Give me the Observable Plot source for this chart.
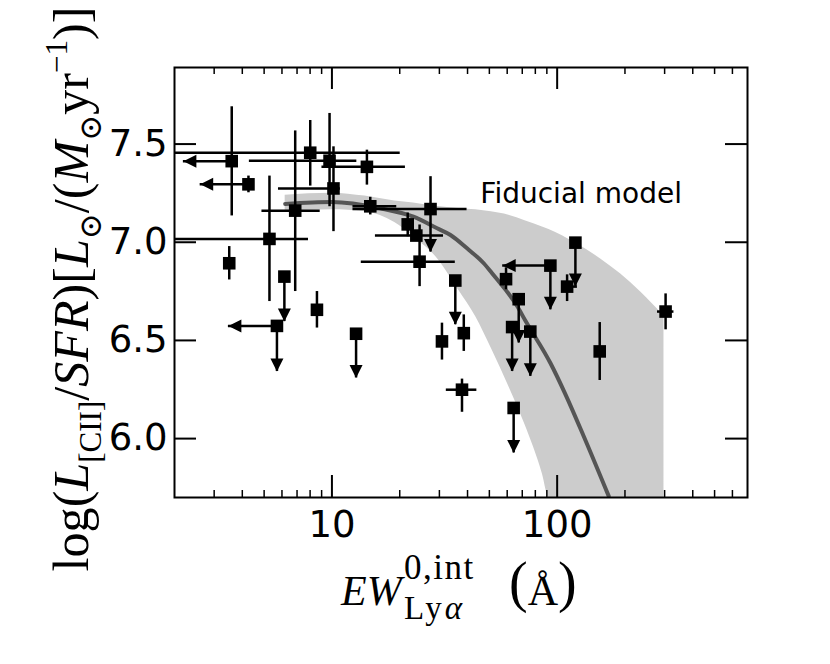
<!DOCTYPE html>
<html><head><meta charset="utf-8">
<script src="https://cdn.jsdelivr.net/npm/d3@7"></script>
<script src="https://cdn.jsdelivr.net/npm/@observablehq/plot@0.6"></script>
<style>body{margin:0;background:#fff;}</style>
</head><body><div id="chart"></div>
<script>
// ---- data ----
const ew   = [3.59, 4.26, 8.01, 9.76, 14.3, 10.16, 6.87, 5.28, 3.50, 6.15, 14.8, 27.4, 21.7, 23.7, 24.5, 35.3,
              8.58, 5.70, 12.8, 30.8, 38.5, 37.8, 59.3, 93.3, 120.5, 110.7, 67.5, 63.1, 76.0, 64.1, 154.5, 303];
const lum  = [7.413, 7.295, 7.456, 7.415, 7.384, 7.274, 7.161, 7.017, 6.893, 6.825, 7.183, 7.169, 7.091, 7.034, 6.901, 6.805,
              6.656, 6.574, 6.534, 6.495, 6.537, 6.249, 6.812, 6.881, 6.998, 6.774, 6.71, 6.568, 6.545, 6.156, 6.444, 6.647];
const yLo  = [7.134, 7.252, 7.286, 7.181, 7.291, 7.054, 6.749, 6.698, 6.808, null, 7.139, null, 7.028, null, 6.774, null,
              6.563, null, null, 6.40, 6.444, 6.134, 6.758, null, null, 6.698, null, null, null, null, 6.296, 6.554];
const yHi  = [7.69, 7.337, 7.62, 7.656, 7.469, 7.486, 7.567, 7.337, 6.978, null, 7.229, 7.334, 7.149, null, 7.088, null,
              6.749, null, null, 6.588, 6.63, 6.303, 6.87, null, null, 6.834, null, null, null, null, 6.591, 6.737];
const xLo  = [null, null, 1.5, 4.30, 9.03, 5.79, 4.89, 1.5, null, null, 12.4, 12.4, null, 15.6, 13.5, null,
              null, null, null, null, null, 32.2, null, null, null, 104.6, null, null, null, null, null, 279];
const xHi  = [null, null, 20.1, 12.9, 21.2, 10.9, 8.87, 7.87, null, null, 19.4, 39.8, null, 31.3, 35.3, null,
              null, null, null, null, null, 44, null, null, null, 123, null, null, null, null, null, 330];
const downTo = [null, null, null, null, null, null, null, null, null, 6.596, null, 6.95, null, null, null, 6.58,
              null, 6.342, 6.309, null, null, null, null, 6.656, 6.775, null, 6.487, 6.342, 6.317, 5.927, null, null];
const leftTo = [2.19, 2.60, null, null, null, null, null, null, null, null, null, null, null, null, null, null,
              null, 3.47, null, null, null, null, null, 57.3, null, null, null, null, null, null, null, null];

// fiducial model curve
const modelEW  = [6.2, 10, 16.4, 23, 29.3, 33.6, 39.8, 47.2, 51.4, 66.4, 72.3, 93.3, 108.2, 131.2, 169.4];
const modelLum = [7.195, 7.205, 7.173, 7.13, 7.071, 7.037, 6.969, 6.893, 6.842, 6.675, 6.60, 6.385, 6.232, 6.012, 5.707];
// model uncertainty band
const bandEW = [6.2, 10, 14, 19, 23, 29, 36.5, 43.5, 51, 61, 72, 86, 92, 121, 156, 191, 235, 298];
const bandHi = [7.24, 7.25, 7.235, 7.21, 7.20, 7.183, 7.172, 7.165, 7.155, 7.138, 7.11, 7.078, 7.065, 6.995, 6.915, 6.839, 6.747, 6.625];
const bandLo = [7.156, 7.165, 7.155, 7.10, 7.028, 6.925, 6.757, 6.62, 6.46, 6.265, 6.07, 5.82, 5.70, 5.70, 5.70, 5.70, 5.70, 5.70];

const xMajor = [10, 100];
const xMinor = [3, 4, 5, 6, 7, 8, 9, 20, 30, 40, 50, 60, 70, 80, 90, 200, 300, 400, 500, 600];
const yMajor = [6.0, 6.5, 7.0, 7.5];
const noteX = [45.6], noteY = [7.245], noteText = ["Fiducial model"];

// ---- layout ----
const W = 830, H = 664, mL = 174, mR = 83, mT = 67, mB = 167;
const fw = W - mL - mR, fh = H - mT - mB;
const idx = d3.range(ew.length);
const vIdx = idx.filter(i => yLo[i] != null || yHi[i] != null);
const hIdx = idx.filter(i => xLo[i] != null);
const dIdx = idx.filter(i => downTo[i] != null);
const lIdx = idx.filter(i => leftTo[i] != null);
const band = bandEW.map((x, i) => ({x, lo: bandLo[i], hi: bandHi[i]}));
const model = modelEW.map((x, i) => ({x, y: modelLum[i]}));

const triDown = {draw(c) { c.moveTo(0, 0); c.lineTo(-6.5, -13); c.lineTo(6.5, -13); c.closePath(); }};
const triLeft = {draw(c) { c.moveTo(0, 0); c.lineTo(13, -6.5); c.lineTo(13, 6.5); c.closePath(); }};

const ebW = 2.5;
const svg = Plot.plot({
  width: W, height: H, marginLeft: mL, marginRight: mR, marginTop: mT, marginBottom: mB,
  style: {background: "white", fontFamily: "DejaVu Sans", fontSize: "37px", color: "black"},
  x: {type: "log", domain: [2, 700]},
  y: {domain: [5.70, 7.89]},
  marks: [
    Plot.areaY(band, {x: "x", y1: "lo", y2: "hi", fill: "#cccccc", curve: "monotone-x", clip: true}),
    Plot.line(model, {x: "x", y: "y", stroke: "#555555", strokeWidth: 4, curve: "monotone-x", clip: true}),
    Plot.ruleX(vIdx, {x: i => ew[i], y1: i => yLo[i] ?? lum[i], y2: i => yHi[i] ?? lum[i], stroke: "black", strokeWidth: ebW, clip: true}),
    Plot.ruleY(hIdx, {y: i => lum[i], x1: i => xLo[i], x2: i => xHi[i], stroke: "black", strokeWidth: ebW, clip: true}),
    Plot.ruleX(dIdx, {x: i => ew[i], y1: i => lum[i], y2: i => downTo[i], stroke: "black", strokeWidth: ebW}),
    Plot.ruleY(lIdx, {y: i => lum[i], x1: i => leftTo[i], x2: i => ew[i], stroke: "black", strokeWidth: ebW}),
    Plot.dot(dIdx, {x: i => ew[i], y: i => downTo[i], symbol: triDown, fill: "black", stroke: "none"}),
    Plot.dot(lIdx, {x: i => leftTo[i], y: i => lum[i], symbol: triLeft, fill: "black", stroke: "none"}),
    Plot.dot(idx, {x: i => ew[i], y: i => lum[i], symbol: "square", r: 7.1, fill: "black", stroke: "none"}),
    Plot.text(noteText, {x: (d, i) => noteX[i], y: (d, i) => noteY[i], text: d => d, textAnchor: "start", lineAnchor: "middle", fontSize: 28, fontFamily: "DejaVu Sans"}),
    // ticks (inward, on all four sides)
    Plot.ruleX(xMajor, {x: d => d, insetTop: fh - 22, stroke: "black", strokeWidth: 2}),
    Plot.ruleX(xMajor, {x: d => d, insetBottom: fh - 22, stroke: "black", strokeWidth: 2}),
    Plot.ruleX(xMinor, {x: d => d, insetTop: fh - 7, stroke: "black", strokeWidth: 1.5}),
    Plot.ruleX(xMinor, {x: d => d, insetBottom: fh - 7, stroke: "black", strokeWidth: 1.5}),
    Plot.ruleY(yMajor, {y: d => d, insetRight: fw - 22, stroke: "black", strokeWidth: 2}),
    Plot.ruleY(yMajor, {y: d => d, insetLeft: fw - 22, stroke: "black", strokeWidth: 2}),
    Plot.axisX(xMajor, {anchor: "bottom", tickSize: 0, tickPadding: 13, tickFormat: d => String(d), label: null, fontSize: 37}),
    Plot.axisY(yMajor, {anchor: "left", tickSize: 0, tickPadding: 7, tickFormat: d3.format(".1f"), label: null, fontSize: 37}),
    Plot.frame({stroke: "black", strokeWidth: 2})
  ]
});
document.getElementById("chart").appendChild(svg);

// ---- axis titles (math-style text) ----
const S = d3.select(svg);
const serif = "'Liberation Serif', 'DejaVu Serif', serif";

// x label
const xl = S.append("g").attr("font-family", serif).attr("fill", "black").attr("text-anchor", "start");
xl.append("text").attr("x", 341).attr("y", 605).attr("font-size", 42).attr("font-style", "italic").text("EW");
xl.append("text").attr("x", 404).attr("y", 579).attr("font-size", 35).attr("letter-spacing", 1.5).text("0,int");
const sub = xl.append("text").attr("x", 404).attr("y", 619).attr("font-size", 33).attr("letter-spacing", 3);
sub.append("tspan").text("Ly");
sub.append("tspan").attr("font-style", "italic").text("α");
const par = xl.append("text").attr("x", 509).attr("y", 601);
par.append("tspan").attr("font-size", 56).text("(");
par.append("tspan").attr("font-size", 42).attr("dy", 4).text("Å");
par.append("tspan").attr("font-size", 56).attr("dy", -4).text(")");

// y label
const pieces = [["log(", "n"], ["L", "i"], ["[CII]", "sub"], ["/", "n"], ["SFR", "i"], [")[", "n"], ["L", "i"], ["⊙", "sub"],
                ["/(", "n"], ["M", "i"], ["⊙", "sub"], ["yr", "n"], ["−1", "sup"], [")]", "n"]];
function drawYLabel(F) {
  S.selectAll(".ylab").remove();
  const t = S.append("text").attr("class", "ylab").attr("font-family", serif).attr("font-size", F)
    .attr("text-anchor", "middle").attr("transform", "translate(88,289) rotate(-90)");
  let cur = 0;
  for (const [s, k] of pieces) {
    const target = k === "sub" ? 0.25 * F : k === "sup" ? -0.42 * F : 0;
    const ts = t.append("tspan").attr("dy", target - cur).text(s);
    cur = target;
    if (k === "i") ts.attr("font-style", "italic");
    if (k === "sub" || k === "sup") ts.attr("font-size", 0.62 * F);
  }
  return t;
}
let F = 46;
let t = drawYLabel(F);
const len = t.node().getComputedTextLength();
if (len > 0) { F = F * 565 / len; drawYLabel(F); }
</script></body></html>
